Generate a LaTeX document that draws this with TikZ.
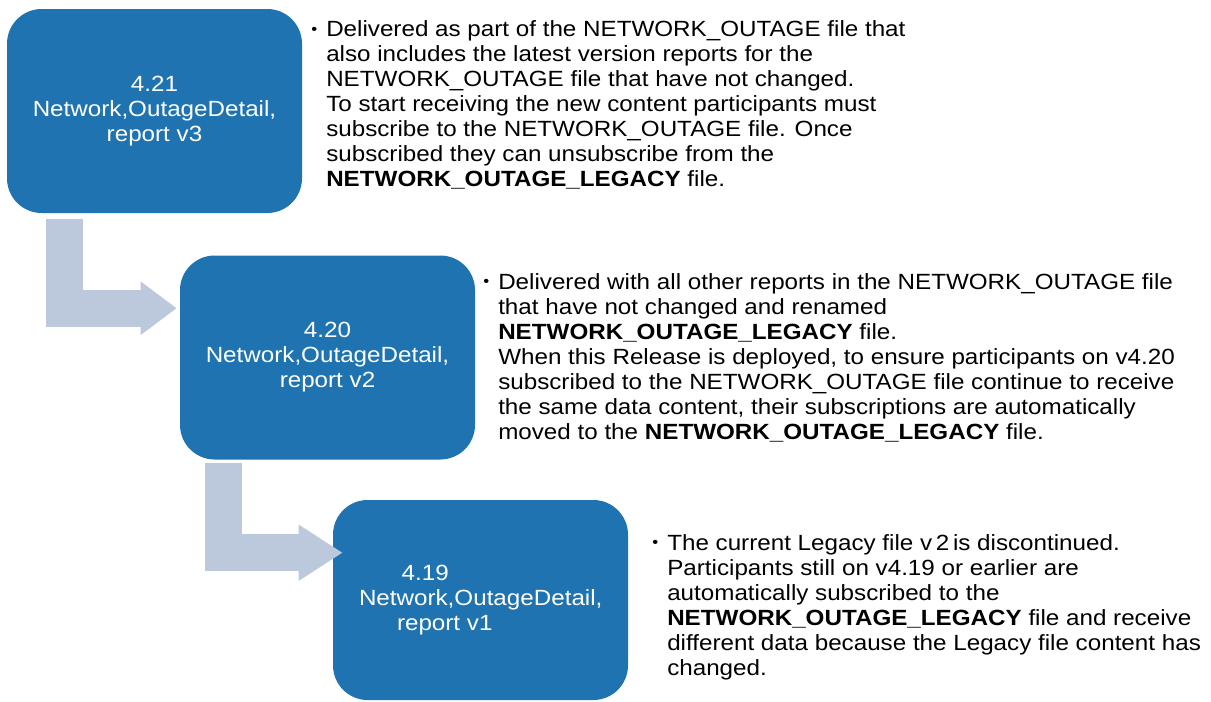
\documentclass[tikz,border=0pt]{standalone}
\usepackage{fontspec}
\setmainfont{Liberation Sans}[FakeStretch=1.1]
\usetikzlibrary{arrows.meta,calc}
\definecolor{stageblue}{RGB}{31,115,176}
\definecolor{flowgrey}{RGB}{188,201,221}
\tikzset{
  stage/.style={fill=stageblue, rounded corners=26pt, minimum width=221.25pt, minimum height=153pt, text=white, align=center, inner sep=0pt, font=\fontsize{16.5}{18.75}\selectfont},
  stagetext/.style={text=white, align=left, inner sep=0pt, font=\fontsize{16.5}{18.75}\selectfont},
  flow/.style={draw=flowgrey, line width=27.75pt, line join=miter, -{Triangle[length=27pt,width=38.25pt]}},
  note/.style={anchor=base west, inner sep=0pt, font=\fontsize{16.5}{18.75}\selectfont},
}
\newcommand{\bul}{\makebox[11.25pt][l]{\raisebox{1.6pt}{\scalebox{0.7}{\textbullet}}}}
\begin{document}
\begin{tikzpicture}[x=0.75pt,y=0.75pt,yscale=-1,xscale=1]
\useasboundingbox (0,0) rectangle (1211,701);

% Stages
\node[stage] (s1) at (154.5,111) {4.21\\Network,OutageDetail,\\report v3};
\node[stage] (s2) at (327.5,357.5) {4.20\\Network,OutageDetail,\\report v2};
\node[stage, minimum height=150pt] (s3) at (480.5,600) {};

% Flows
\draw[flow] ($(s1.south west)+(58,6)$) |- ($(s2.north west)+(-3,53)$);
\draw[flow, -{Triangle[length=33pt,width=39.75pt]}] ($(s2.south west)+(44,3)$) |- ($(s3.north west)+(10,53)$);

\node[stagetext, anchor=west] (s3txt) at ($(s3.west)+(26,0)$) {\hspace*{32pt}4.19\\Network,OutageDetail,\\\hspace*{28.5pt}report v1};

% Notes
\node[note] (n1) at (311,36.7) {\bul\begin{tabular}[t]{@{}l@{}}
Delivered as part of the NETWORK\_OUTAGE file that\\
also includes the latest version reports for the\\
NETWORK\_OUTAGE file that have not changed.\\
To start receiving the new content participants must\\
subscribe to the NETWORK\_OUTAGE file. Once\\
subscribed they can unsubscribe from the\\
\textbf{NETWORK\_OUTAGE\_LEGACY} file.
\end{tabular}};
\node[note] (n2) at (483,289) {\bul\begin{tabular}[t]{@{}l@{}}
Delivered with all other reports in the NETWORK\_OUTAGE file\\
that have not changed and renamed\\
\textbf{NETWORK\_OUTAGE\_LEGACY} file.\\
When this Release is deployed, to ensure participants on v4.20\\
subscribed to the NETWORK\_OUTAGE file continue to receive\\
the same data content, their subscriptions are automatically\\
moved to the \textbf{NETWORK\_OUTAGE\_LEGACY} file.
\end{tabular}};
\node[note] (n3) at (652,550) {\bul\begin{tabular}[t]{@{}l@{}}
The current Legacy file v\,2\,is discontinued.\\
Participants still on v4.19 or earlier are\\
automatically subscribed to the\\
\textbf{NETWORK\_OUTAGE\_LEGACY} file and receive\\
different data because the Legacy file content has\\
changed.
\end{tabular}};

\end{tikzpicture}
\end{document}
